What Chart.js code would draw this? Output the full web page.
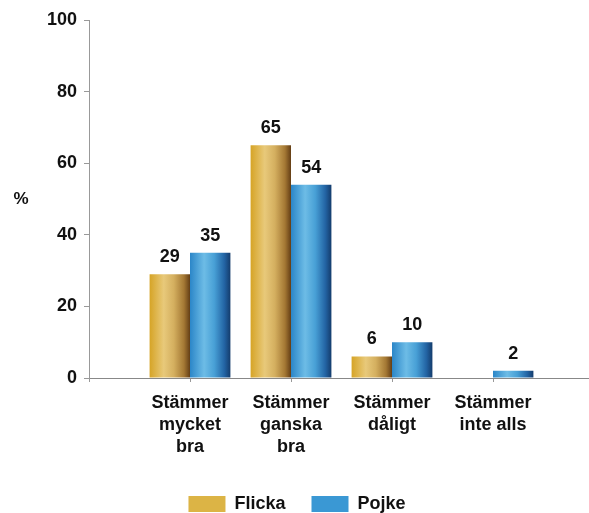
<!DOCTYPE html>
<html>
<head>
  <meta charset="utf-8">
  <title>Stämmer</title>
  <script src="https://cdn.jsdelivr.net/npm/chart.js"></script>
  <style>
    html, body { margin: 0; padding: 0; background: #fff; overflow: hidden; }
    #wrap { width: 594px; height: 513px; }
  </style>
</head>
<body>
  <div id="wrap"><canvas id="chart"></canvas></div>

  <script>
    // empty slots at both ends keep the groups where the original has them
    const categories = ['', ['Stämmer', 'mycket', 'bra'], ['Stämmer', 'ganska', 'bra'], ['Stämmer', 'dåligt'], ['Stämmer', 'inte alls'], ''];
    const flicka = [null, 29, 65, 6, 0, null];
    const pojke = [null, 35, 54, 10, 2, null];
    const yTicks = [0, 20, 40, 60, 80, 100];

    const FONT = '"Liberation Sans", Arial, sans-serif';

    const goldStops = [[0, '#d6a426'], [0.35, '#e8c97a'], [0.6, '#d4af5f'], [0.85, '#a47834'], [1, '#643e15']];
    const blueStops = [[0, '#2b86c8'], [0.35, '#6dbce6'], [0.6, '#48a0d6'], [0.85, '#2364a4'], [1, '#143c6c']];

    function barFill(flat, stops, values, side) {
      return function (ctx) {
        const chart = ctx.chart;
        const xs = chart.scales && chart.scales.x;
        if (ctx.type !== 'data' || values[ctx.dataIndex] == null || !xs || !chart.chartArea) return flat;
        const step = xs.width / (categories.length - 1);
        const w = step * 0.4;
        const c = xs.getPixelForValue(ctx.dataIndex);
        const left = side < 0 ? c - w : c;
        const g = chart.ctx.createLinearGradient(left, 0, left + w, 0);
        stops.forEach(s => g.addColorStop(s[0], s[1]));
        return g;
      };
    }

    // numbers above the bars
    const valueLabels = {
      id: 'valueLabels',
      afterDatasetsDraw(chart) {
        const ctx = chart.ctx;
        ctx.save();
        ctx.font = 'bold 18px ' + FONT;
        ctx.fillStyle = '#111';
        ctx.textAlign = 'center';
        ctx.textBaseline = 'bottom';
        chart.data.datasets.forEach((ds, i) => {
          chart.getDatasetMeta(i).data.forEach((bar, j) => {
            const v = ds.data[j];
            if (!v) return;
            ctx.fillText(String(v), bar.x, bar.y - 8);
          });
        });
        ctx.restore();
      }
    };

    // the "%" sits upright left of the axis
    const unitLabel = {
      id: 'unitLabel',
      afterDraw(chart) {
        const ctx = chart.ctx;
        const y = chart.scales.y.getPixelForValue(50);
        ctx.save();
        ctx.font = 'bold 17px ' + FONT;
        ctx.fillStyle = '#111';
        ctx.textAlign = 'center';
        ctx.textBaseline = 'middle';
        ctx.fillText('%', 21, y);
        ctx.restore();
      }
    };

    new Chart(document.getElementById('chart'), {
      type: 'bar',
      data: {
        labels: categories,
        datasets: [
          {
            label: 'Flicka',
            data: flicka,
            backgroundColor: barFill('#dcb445', goldStops, flicka, -1)
          },
          {
            label: 'Pojke',
            data: pojke,
            backgroundColor: barFill('#3a98d4', blueStops, pojke, 1)
          }
        ]
      },
      options: {
        responsive: true,
        maintainAspectRatio: false,
        animation: false,
        layout: { padding: { top: 20, right: 0, left: 0, bottom: -10 } },
        datasets: {
          bar: { categoryPercentage: 0.8, barPercentage: 1.0, borderWidth: 0 }
        },
        scales: {
          x: {
            offset: false,
            grid: { display: true, offset: false, drawOnChartArea: false, drawTicks: true, tickLength: 4, color: '#999' },
            border: { display: true, color: '#888', dash: [2, 1] },
            ticks: {
              color: '#111',
              font: { family: FONT, size: 18, weight: 'bold', lineHeight: 1.22 },
              padding: 10,
              maxRotation: 0,
              autoSkip: false
            },
            afterFit(scale) {
              scale.height = 91;
              scale.paddingLeft = 0;
              scale.paddingRight = 0;
            }
          },
          y: {
            min: 0,
            max: 100,
            afterBuildTicks(scale) { scale.ticks = yTicks.map(v => ({ value: v })); },
            grid: { display: true, drawOnChartArea: false, drawTicks: true, tickLength: 5, color: '#999' },
            border: { display: true, color: '#999' },
            ticks: {
              color: '#111',
              font: { family: FONT, size: 18, weight: 'bold' },
              padding: 7
            },
            afterFit(scale) {
              scale.width = 89;
              scale.paddingTop = 0;
              scale.paddingBottom = 0;
            }
          }
        },
        plugins: {
          legend: {
            position: 'bottom',
            labels: {
              color: '#111',
              font: { family: FONT, size: 18, weight: 'bold' },
              boxWidth: 37,
              boxHeight: 16,
              padding: 26
            }
          },
          tooltip: { enabled: false }
        }
      },
      plugins: [valueLabels, unitLabel]
    });
  </script>
</body>
</html>
